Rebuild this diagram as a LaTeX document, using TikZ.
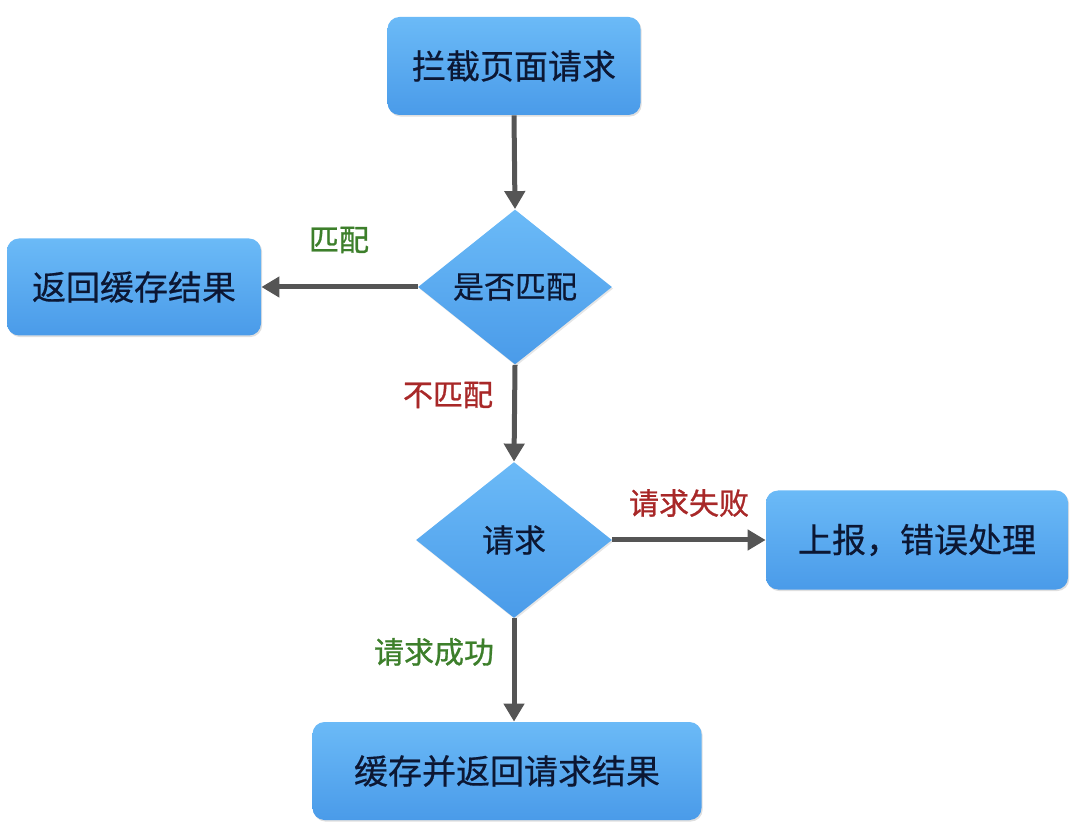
\documentclass[tikz,border=0pt]{standalone}
\usepackage{fontspec}
\newfontfamily\cjk[FakeBold=0.5]{Noto Sans CJK SC}
\newfontfamily\cjklab[FakeBold=0.9]{Noto Sans CJK SC}
\usetikzlibrary{shapes.geometric,arrows.meta,shadows}
\definecolor{boxtop}{HTML}{6BBAF7}
\definecolor{boxbot}{HTML}{4A9BE9}
\definecolor{txt}{HTML}{0C1733}
\definecolor{arr}{HTML}{555555}
\definecolor{lgreen}{HTML}{3D7F2B}
\definecolor{lred}{HTML}{A82828}
\tikzset{
  box/.style={rectangle, rounded corners=6pt, top color=boxtop, bottom color=boxbot, draw=none,
    text=txt, font=\cjk\fontsize{17}{20}\selectfont, inner sep=0pt,
    drop shadow={shadow xshift=0.6pt, shadow yshift=-0.8pt, opacity=0.25}},
  dia/.style={diamond, top color=boxtop, bottom color=boxbot, draw=none, text=txt,
    font=\cjk\fontsize{15.5}{18}\selectfont, inner sep=0pt,
    drop shadow={shadow xshift=0.6pt, shadow yshift=-0.8pt, opacity=0.2}},
  conn/.style={draw=arr, line width=2.5pt, -{Triangle[length=9pt,width=10pt]}},
  lab/.style={font=\cjklab\fontsize{15}{18}\selectfont, inner sep=0pt}
}
\begin{document}
\begin{tikzpicture}[x=0.5pt,y=-0.5pt]
\useasboundingbox (0,0) rectangle (1080,838);
\node[box, minimum width=126.5pt, minimum height=49pt] (start) at (514,66) {拦截页面请求};
\node[dia, minimum width=97pt, minimum height=77.5pt] (match) at (515,287) {是否匹配};
\node[box, minimum width=127pt, minimum height=48.5pt] (cache) at (134,287) {返回缓存结果};
\node[dia, minimum width=98pt, minimum height=78pt, font=\cjk\fontsize{16}{19}\selectfont] (req) at (514,540) {请求};
\node[box, minimum width=151pt, minimum height=49.5pt] (err) at (917,540) {上报，错误处理};
\node[box, minimum width=194.5pt, minimum height=49pt] (done) at (507,771) {缓存并返回请求结果};
\draw[conn] (start.south) -- (match.north);
\draw[conn] (match.west) -- (cache.east);
\draw[conn] (match.south) -- (req.north);
\draw[conn] (req.east) -- (err.west);
\draw[conn] (req.south) -- (req.south |- done.north);
\node[lab, text=lgreen] (l1) at (339,240) {匹配};
\node[lab, text=lred] (l2) at (448,395) {不匹配};
\node[lab, text=lred] (l3) at (689,503) {请求失败};
\node[lab, text=lgreen] (l4) at (434,652) {请求成功};
\end{tikzpicture}
\end{document}
